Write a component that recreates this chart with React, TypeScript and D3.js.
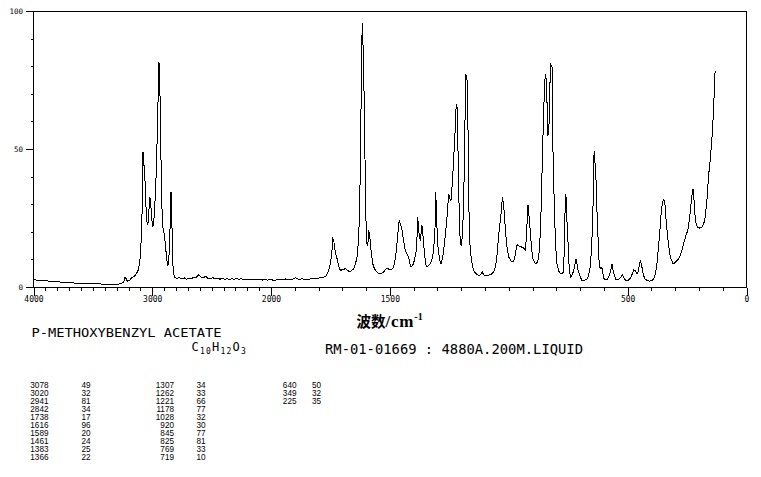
import React from 'react';
import * as d3 from 'd3';

const W = 761;
const H = 477;

// Raman spectrum (wavenumber cm-1, relative intensity)
const spectrumWn = [
  4000, 3950, 3900, 3850, 3800, 3750, 3700, 3650, 3600, 3550, 3500, 3450, 3400, 3350, 3300, 3260, 3240, 3230, 3220, 3210,
  3190, 3172, 3150, 3130, 3116, 3102, 3092, 3084, 3078, 3072, 3060, 3054, 3045, 3037, 3028, 3020, 3012, 3004, 2996, 2988,
  2978, 2968, 2958, 2950, 2944, 2938, 2932, 2924, 2916, 2908, 2898, 2890, 2880, 2870, 2862, 2852, 2846, 2842, 2836, 2830,
  2822, 2810, 2790, 2770, 2750, 2730, 2710, 2690, 2670, 2650, 2630, 2610, 2600, 2590, 2570, 2550, 2530, 2510, 2490, 2470,
  2450, 2430, 2410, 2390, 2370, 2350, 2330, 2310, 2290, 2270, 2250, 2230, 2210, 2190, 2170, 2150, 2130, 2110, 2090, 2070,
  2050, 2030, 2010, 2000, 1985, 1970, 1955, 1940, 1925, 1910, 1898, 1885, 1870, 1850, 1830, 1810, 1795, 1780, 1768, 1758,
  1750, 1744, 1740, 1736, 1730, 1722, 1715, 1708, 1698, 1687, 1678, 1669, 1660, 1652, 1645, 1638, 1632, 1627, 1622, 1618,
  1615, 1611, 1607, 1602, 1597, 1593, 1589, 1585, 1579, 1573, 1568, 1558, 1547, 1536, 1526, 1518, 1512, 1505, 1498, 1490,
  1484, 1478, 1473, 1466, 1461, 1455, 1449, 1442, 1435, 1428, 1421, 1415, 1411, 1404, 1397, 1390, 1386, 1383, 1378, 1372,
  1368, 1365, 1360, 1354, 1347, 1338, 1330, 1322, 1316, 1310, 1307, 1302, 1297, 1290, 1285, 1278, 1274, 1268, 1262, 1256,
  1253, 1247, 1243, 1237, 1232, 1226, 1221, 1217, 1213, 1209, 1204, 1199, 1194, 1189, 1185, 1181, 1175, 1171, 1169, 1165,
  1162, 1155, 1148, 1138, 1127, 1118, 1112, 1105, 1098, 1085, 1070, 1062, 1056, 1049, 1042, 1036, 1031, 1027, 1022, 1018,
  1014, 1008, 1000, 990, 982, 977, 972, 967, 963, 957, 951, 945, 940, 935, 930, 926, 922, 919, 915, 909,
  904, 898, 891, 884, 878, 874, 869, 864, 859, 855, 850, 846, 842, 838, 835, 832, 829, 825, 818, 814,
  810, 807, 802, 797, 790, 782, 775, 771, 768, 766, 764, 761, 758, 755, 752, 747, 741, 734, 727, 722,
  717, 713, 708, 700, 692, 682, 671, 664, 657, 652, 648, 645, 641, 637, 633, 630, 626, 622, 618, 614,
  610, 607, 601, 598, 590, 584, 576, 570, 566, 561, 556, 551, 545, 538, 530, 523, 517, 511, 505, 498,
  491, 485, 478, 474, 467, 460, 455, 450, 446, 441, 435, 428, 418, 408, 397, 390, 383, 376, 369, 363,
  358, 353, 348, 343, 337, 330, 323, 316, 309, 300, 292, 285, 278, 270, 261, 254, 247, 241, 236, 230,
  225, 220, 215, 210, 205, 196, 187, 180, 174, 167, 160, 153, 146, 140, 136, 132,
];
const spectrumInt = [
  2.8, 2.6, 2.5, 2.1, 2.2, 1.8, 1.8, 1.6, 1.5, 1.6, 1.3, 1.4, 1.1, 1.2, 1.0, 1.6, 1.9, 3.7, 3.2, 2.3,
  2.6, 3.7, 4.0, 5.3, 6.5, 10.8, 18, 30, 49, 46, 38, 30, 24, 22.5, 28, 32.7, 30, 25, 21.8, 23,
  30, 40, 55, 70, 81.6, 79, 62, 40, 25, 21, 19, 16, 11, 8, 9, 18, 30, 34.5, 28, 12,
  5, 3.6, 3.3, 3.6, 3.1, 3.5, 3.0, 3.4, 3.2, 3.8, 3.6, 4.5, 4.2, 3.8, 3.6, 4.0, 3.3, 3.2, 3.6, 3.1,
  3.4, 3.0, 3.3, 3.0, 3.2, 2.9, 3.2, 3.0, 3.3, 3.0, 3.2, 2.9, 3.1, 2.8, 3.1, 2.9, 3.0, 2.8, 3.0, 2.7,
  2.9, 2.7, 2.9, 2.8, 2.6, 3.0, 2.8, 3.1, 2.7, 3.0, 3.5, 3.0, 3.1, 3.0, 3.1, 3.2, 3.5, 3.6, 4.2, 6.0,
  8.6, 13, 17.6, 17, 13, 10.4, 7.5, 6.2, 6.5, 6.8, 6.2, 5.7, 6.2, 6.8, 8.5, 11, 17, 28, 60, 90,
  96, 80, 64, 28, 16, 15, 20.7, 19, 13.4, 9, 7.4, 5.8, 5.0, 5.0, 5.6, 6.5, 7.1, 6.6, 6.4, 6.8,
  7.5, 10, 13.4, 20, 24.3, 23, 20.7, 17, 13.4, 12, 11, 8.5, 7.4, 8, 9.8, 13, 18, 25.5, 20, 17,
  20, 22.5, 18, 12, 7.4, 7.8, 8.6, 10.5, 13.4, 22, 34.5, 22, 14, 10, 8.6, 11, 13.4, 18, 23, 30,
  34, 32, 31.5, 38, 46, 56, 66.5, 65, 48, 30, 16, 15, 20, 34, 55, 77.4, 75, 55, 34, 20,
  13.4, 9, 6.2, 5, 4.3, 4.6, 5.8, 4.5, 4.2, 4.4, 5, 6, 7.4, 12, 19.4, 24, 28, 32.7, 30, 26,
  20.7, 15, 11, 9.6, 9.2, 10.2, 12.2, 15, 15.5, 15, 15, 14.6, 14.5, 14, 13.5, 18, 25, 30, 26, 20,
  14, 10.4, 9, 8.6, 9.5, 11, 17, 28, 45, 58, 72, 77.4, 75, 64, 55, 57, 62, 81, 80, 49.6,
  35, 25.5, 14, 8.6, 6, 5, 5.2, 5.5, 10, 15.8, 25, 34, 32, 24, 19, 9, 3.7, 4.5, 6, 8,
  10.4, 8.5, 6, 4, 2.5, 2.6, 3, 4.5, 7.4, 14, 22, 31.5, 49.6, 45, 38.8, 30, 21.8, 12, 7.4, 7.0,
  7.2, 6.8, 3.5, 3.1, 2.9, 3.1, 4.5, 6.5, 8.6, 6, 4.5, 3.1, 2.8, 2.9, 3.5, 4.7, 3.8, 2.8, 2.5, 2.6,
  3.1, 4, 5.5, 6.4, 6, 5, 6, 8.5, 9.8, 8, 5, 3.2, 2.5, 2.3, 2.5, 3.2, 5, 9, 15.8, 22,
  28, 31, 32, 30, 23, 17, 12.2, 10, 8.6, 9.0, 9.8, 10.5, 11.6, 14, 17, 19, 20.7, 24, 28, 33,
  35.8, 31, 24.3, 22.5, 21.8, 21.5, 21.8, 23, 25.5, 31, 40, 46, 53, 62, 70, 78.6,
];

// Peak table
const peakWn = [3078, 3020, 2941, 2842, 1738, 1616, 1589, 1461, 1383, 1366, 1307, 1262, 1221, 1178, 1028, 920, 845, 825, 769, 719, 640, 349, 225];
const peakInt = [49, 32, 81, 34, 17, 96, 20, 24, 25, 22, 34, 33, 66, 77, 32, 30, 77, 81, 33, 10, 50, 32, 35];

// Axis ticks
const xTickValues = d3.range(0, 4001, 100);
const xLabelValues = [4000, 3000, 2000, 1500, 500, 0];
const yTickValues = d3.range(0, 101, 10);
const yLabelValues = [0, 50, 100];

const compoundName = 'P-METHOXYBENZYL ACETATE';
const sampleInfo = 'RM-01-01669 : 4880A.200M.LIQUID';

const MONO = '"DejaVu Sans Mono", monospace';

export default function App() {
  const x = d3.scaleLinear().domain([4000, 2000, 0]).range([33.5, 271, 746.5]);
  const y = d3.scaleLinear().domain([0, 100]).range([287.5, 11.5]);

  const line = d3
    .line<number>()
    .x((_, i) => x(spectrumWn[i]))
    .y((_, i) => y(spectrumInt[i]));
  const path = line(spectrumInt) || '';

  const [x0, x1] = [x(4000), x(0)];
  const [y0, y1] = [y(0), y(100)];

  const colPos = [
    { wn: 48.5, it: 81.5 },
    { wn: 174, it: 196.5 },
    { wn: 296.5, it: 312 },
  ];

  return (
    <svg
      width={W}
      height={H}
      viewBox={`0 0 ${W} ${H}`}
      style={{ position: 'absolute', left: 0, top: 0, background: '#fff' }}
    >
      <rect x={0} y={0} width={W} height={H} fill="#fff" />
      <g shapeRendering="crispEdges" stroke="#000" strokeWidth={1} fill="none">
        <line x1={x0} x2={x1} y1={y1} y2={y1} />
        <line x1={x1} x2={x1} y1={y1} y2={y0} />
        <line x1={x0} x2={x0} y1={y1} y2={y0} />
        <line x1={x0} x2={x1} y1={y0} y2={y0} />
        {xTickValues.map((v) => (
          <line key={'xt' + v} x1={Math.round(x(v)) + 0.5} x2={Math.round(x(v)) + 0.5} y1={y0} y2={y0 + (xLabelValues.includes(v) ? 8 : 3)} />
        ))}
        {yTickValues.map((v) => (
          <line key={'yt' + v} y1={Math.round(y(v) - 0.5) + 0.5} y2={Math.round(y(v) - 0.5) + 0.5} x1={x0} x2={x0 - (yLabelValues.includes(v) ? 8 : 3)} />
        ))}
        <path d={path} strokeWidth={1} />
      </g>
      <g fontFamily={MONO} fontSize={8} fill="#000">
        {xLabelValues.map((v) => (
          <text key={'xl' + v} x={x(v) + 0.5} y={302} textAnchor="middle">
            {v}
          </text>
        ))}
      </g>
      <g fontFamily={MONO} fontSize={7.5} fill="#000">
        {yLabelValues.map((v) => (
          <text key={'yl' + v} x={23} y={y(v) + 2.5} textAnchor="end">
            {v}
          </text>
        ))}
      </g>
      <text x={356.5} y={327} fill="#000" fontWeight="bold">
        <tspan fontFamily='"Noto Sans CJK SC", sans-serif' fontSize={14.5}>波数</tspan>
        <tspan fontFamily='"Liberation Serif", serif' fontSize={17} letterSpacing={0.8}>/cm</tspan>
        <tspan fontFamily='"Liberation Serif", serif' fontSize={10} dy={-7}>-1</tspan>
      </text>
      <text x={31.5} y={336.5} fontFamily={MONO} fontSize={12} textLength={190} lengthAdjust="spacingAndGlyphs" fill="#000">
        {compoundName}
      </text>
      <text x={191.5} y={351} fontFamily={MONO} fontSize={12} fill="#000" letterSpacing={1.2}>
        C<tspan fontSize={8} dy={2.5}>10</tspan>
        <tspan dy={-2.5}>H</tspan>
        <tspan fontSize={8} dy={2.5}>12</tspan>
        <tspan dy={-2.5}>O</tspan>
        <tspan fontSize={8} dy={2.5}>3</tspan>
      </text>
      <text x={325} y={353.5} fontFamily={MONO} fontSize={14} textLength={258} lengthAdjust="spacingAndGlyphs" fill="#000">
        {sampleInfo}
      </text>
      <g fontFamily='"Liberation Sans", sans-serif' fontSize={8.2} fill="#000">
        {peakWn.map((w, i) => {
          const c = colPos[Math.floor(i / 10)];
          const row = i % 10;
          const yy = 387.5 + row * 8;
          return (
            <g key={'pk' + i}>
              <text x={c.wn} y={yy} textAnchor="end">{w}</text>
              <text x={c.it} y={yy}>{peakInt[i]}</text>
            </g>
          );
        })}
      </g>
    </svg>
  );
}
